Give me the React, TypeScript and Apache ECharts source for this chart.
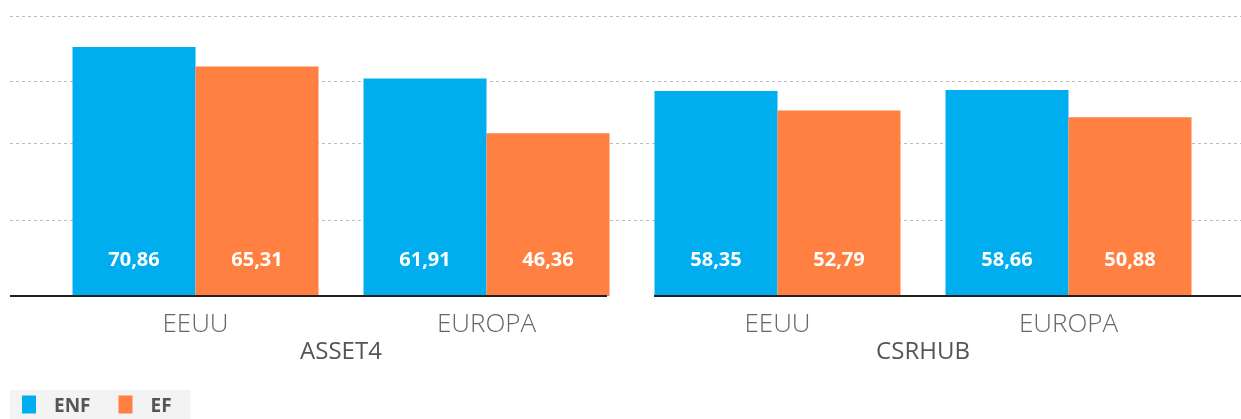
import React, { useEffect, useRef } from "react";
import * as echarts from "echarts";

const subCategories = ["EEUU", "EUROPA", "EEUU", "EUROPA"];
const groups = ["ASSET4", "CSRHUB"];
const seriesNames = ["ENF", "EF"];
const enfValues = [70.86, 61.91, 58.35, 58.66];
const efValues = [65.31, 46.36, 52.79, 50.88];

const BLUE = "#00aeef";
const ORANGE = "#ff8040";
const FONT = "'Open Sans', sans-serif";

const fmt = (v: number) => v.toFixed(2).replace(".", ",");

export default function App() {
  const ref = useRef<HTMLDivElement>(null);
  useEffect(() => {
    if (!ref.current) return;
    const chart = echarts.init(ref.current, null, { renderer: "svg" });
    const gridYs = [16.5, 81.5, 143.5, 220.5];
    const label = {
      show: true,
      position: "insideBottom",
      distance: 28,
      color: "#fff",
      fontWeight: "bold",
      fontSize: 20,
      fontFamily: FONT,
      formatter: (p: any) => fmt(p.value),
    };
    chart.setOption({
      animation: false,
      textStyle: { fontFamily: FONT },
      grid: { left: 50, right: 27, top: 15, bottom: 123, containLabel: false },
      legend: {
        data: seriesNames,
        left: 10,
        bottom: 0,
        icon: "rect",
        itemWidth: 14,
        itemHeight: 18,
        itemGap: 28,
        padding: [5, 19, 5, 12],
        backgroundColor: "#f2f3f2",
        textStyle: {
          color: "#555",
          fontWeight: "bold",
          fontSize: 19,
          fontFamily: FONT,
          padding: [0, 0, 0, 13],
        },
      },
      xAxis: [
        {
          type: "category",
          data: subCategories,
          axisLine: { show: false },
          axisTick: { show: false },
          axisLabel: {
            fontSize: 26,
            fontWeight: 300,
            color: "#666",
            margin: 13,
            fontFamily: FONT,
          },
        },
        {
          type: "category",
          data: groups,
          position: "bottom",
          axisLine: { show: false },
          axisTick: { show: false },
          axisLabel: {
            fontSize: 24,
            color: "#555",
            margin: 41,
            fontFamily: FONT,
          },
        },
      ],
      yAxis: {
        type: "value",
        min: 0,
        max: 80,
        show: false,
        splitLine: { show: false },
      },
      graphic: [
        ...gridYs.map((y) => ({
          type: "line",
          z: 0,
          silent: true,
          shape: { x1: 10, y1: y, x2: 1241, y2: y },
          style: { stroke: "#bdbdbd", lineWidth: 1, lineDash: [3, 3] },
        })),
        {
          type: "line",
          z: 10,
          silent: true,
          shape: { x1: 10, y1: 296, x2: 607, y2: 296 },
          style: { stroke: "#222", lineWidth: 2 },
        },
        {
          type: "line",
          z: 10,
          silent: true,
          shape: { x1: 654, y1: 296, x2: 1241, y2: 296 },
          style: { stroke: "#222", lineWidth: 2 },
        },
      ],
      series: [
        {
          name: seriesNames[0],
          type: "bar",
          z: 2,
          data: enfValues,
          barWidth: 123,
          barGap: "0%",
          itemStyle: { color: BLUE },
          label,
        },
        {
          name: seriesNames[1],
          type: "bar",
          z: 2,
          data: efValues,
          barWidth: 123,
          barGap: "0%",
          itemStyle: { color: ORANGE },
          label,
        },
      ],
    });
    return () => chart.dispose();
  }, []);
  return (
    <div
      ref={ref}
      style={{ position: "fixed", left: 0, top: 0, width: 1241, height: 419 }}
    />
  );
}
